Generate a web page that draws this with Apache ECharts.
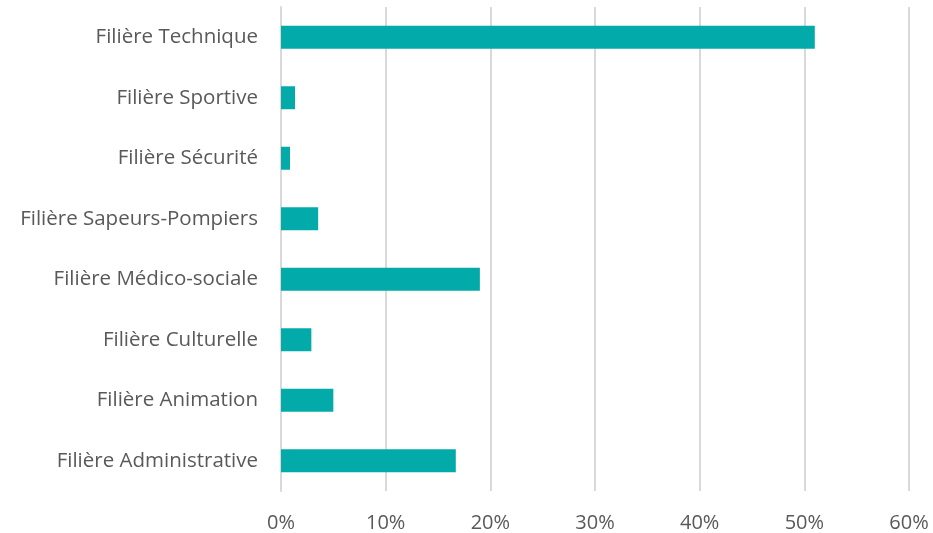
<!DOCTYPE html>
<html><head><meta charset="utf-8">
<script src="https://cdn.jsdelivr.net/npm/echarts@6/dist/echarts.min.js"></script>
<style>html,body{margin:0;padding:0;background:#fff}#c{width:933px;height:533px}</style>
</head><body><div id="c"></div>
<script>
const categories = ["Filière Administrative","Filière Animation","Filière Culturelle","Filière Médico-sociale","Filière Sapeurs-Pompiers","Filière Sécurité","Filière Sportive","Filière Technique"];
const values = [16.7, 5.0, 2.9, 19.0, 3.55, 0.86, 1.34, 51.0];
const xTicks = [0, 10, 20, 30, 40, 50, 60];

const chart = echarts.init(document.getElementById('c'), null, {renderer:'canvas'});
chart.setOption({
  animation:false,
  backgroundColor:'#fff',
  grid:{left:281, right:24, top:7, bottom:42, containLabel:false},
  xAxis:{type:'value', min:xTicks[0], max:xTicks[xTicks.length-1], interval:10,
    axisLine:{show:false}, axisTick:{show:false},
    splitLine:{show:true, lineStyle:{color:'#d9d9d9', width:2}},
    axisLabel:{formatter:v=>v+'%', color:'#595959', fontSize:20, fontFamily:'Open Sans', margin:22}},
  yAxis:{type:'category', data:categories,
    axisLine:{show:true, lineStyle:{color:'#d9d9d9', width:2}}, axisTick:{show:false},
    axisLabel:{color:'#595959', fontSize:20.5, fontFamily:'Open Sans', margin:23}},
  series:[{type:'bar', data:values, barCategoryGap:'62%', itemStyle:{color:'#02ABA9'}}]
});
</script></body></html>
